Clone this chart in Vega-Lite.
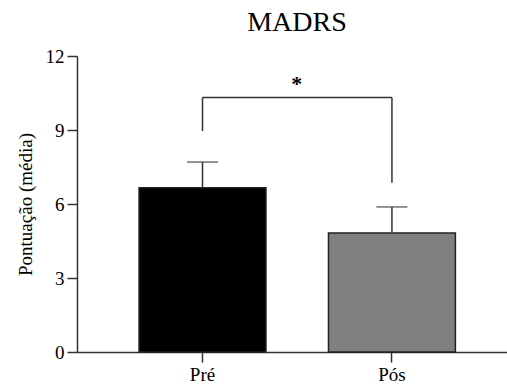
{
  "$schema": "https://vega.github.io/schema/vega-lite/v6.json",
  "width": 430,
  "height": 296,
  "autosize": {"type": "none"},
  "padding": {"left": 77, "top": 56, "right": 0, "bottom": 35},
  "background": "white",
  "config": {
    "view": {"stroke": null},
    "font": "Liberation Serif",
    "axis": {
      "labelFont": "Liberation Serif",
      "labelFontSize": 19,
      "labelColor": "black",
      "labelPadding": 3,
      "titleFont": "Liberation Serif",
      "titleFontSize": 19,
      "titleFontWeight": "normal",
      "titleColor": "black",
      "tickSize": 10,
      "tickWidth": 1.5,
      "tickColor": "#333",
      "domainColor": "#333",
      "domainWidth": 1.5,
      "grid": false
    }
  },
  "title": {
    "text": "MADRS",
    "font": "Liberation Serif",
    "fontSize": 28,
    "fontWeight": "normal",
    "color": "black",
    "anchor": "middle",
    "offset": 10,
    "dx": 5
  },
  "data": {
    "values": [
      {"grupo": "Pré", "media": 6.66, "sup": 7.7},
      {"grupo": "Pós", "media": 4.82, "sup": 5.88}
    ]
  },
  "encoding": {
    "x": {
      "field": "grupo",
      "type": "nominal",
      "sort": ["Pré", "Pós"],
      "scale": {"domain": ["Pré", "Pós"], "paddingInner": 0.33, "paddingOuter": 0.3, "align": 0.546},
      "axis": {"title": null, "labelAngle": 0}
    }
  },
  "layer": [
    {
      "mark": {"type": "bar", "stroke": "#222", "strokeWidth": 1.5},
      "encoding": {
        "y": {
          "field": "media",
          "type": "quantitative",
          "scale": {"domain": [0, 12], "nice": false},
          "axis": {"values": [0, 3, 6, 9, 12], "title": "Pontuação (média)", "titlePadding": 10}
        },
        "color": {
          "field": "grupo",
          "type": "nominal",
          "scale": {"domain": ["Pré", "Pós"], "range": ["#000000", "#808080"]},
          "legend": null
        }
      }
    },
    {
      "mark": {"type": "rule", "color": "#333", "strokeWidth": 1.5},
      "encoding": {
        "y": {"field": "media", "type": "quantitative"},
        "y2": {"field": "sup"}
      }
    },
    {
      "mark": {"type": "tick", "color": "#333", "size": 31, "thickness": 1.5, "orient": "horizontal"},
      "encoding": {
        "y": {"field": "sup", "type": "quantitative"}
      }
    },
    {
      "data": {"values": [{"a": "Pré", "b": "Pós", "y": 10.32}]},
      "mark": {"type": "rule", "color": "#333", "strokeWidth": 1.5},
      "encoding": {
        "x": {"field": "a", "type": "nominal"},
        "x2": {"field": "b"},
        "y": {"field": "y", "type": "quantitative"}
      }
    },
    {
      "data": {"values": [{"g": "Pré", "y1": 8.96, "y2": 10.32}, {"g": "Pós", "y1": 6.86, "y2": 10.32}]},
      "mark": {"type": "rule", "color": "#333", "strokeWidth": 1.5},
      "encoding": {
        "x": {"field": "g", "type": "nominal"},
        "y": {"field": "y1", "type": "quantitative"},
        "y2": {"field": "y2"}
      }
    },
    {
      "data": {"values": [{"g": "Pré", "y": 10.6, "txt": "*"}]},
      "mark": {"type": "text", "font": "Liberation Serif", "fontSize": 22, "fontWeight": "bold", "baseline": "alphabetic", "align": "center", "color": "black"},
      "encoding": {
        "x": {"field": "g", "type": "nominal", "bandPosition": 1.242},
        "y": {"field": "y", "type": "quantitative"},
        "text": {"field": "txt"}
      }
    }
  ]
}
